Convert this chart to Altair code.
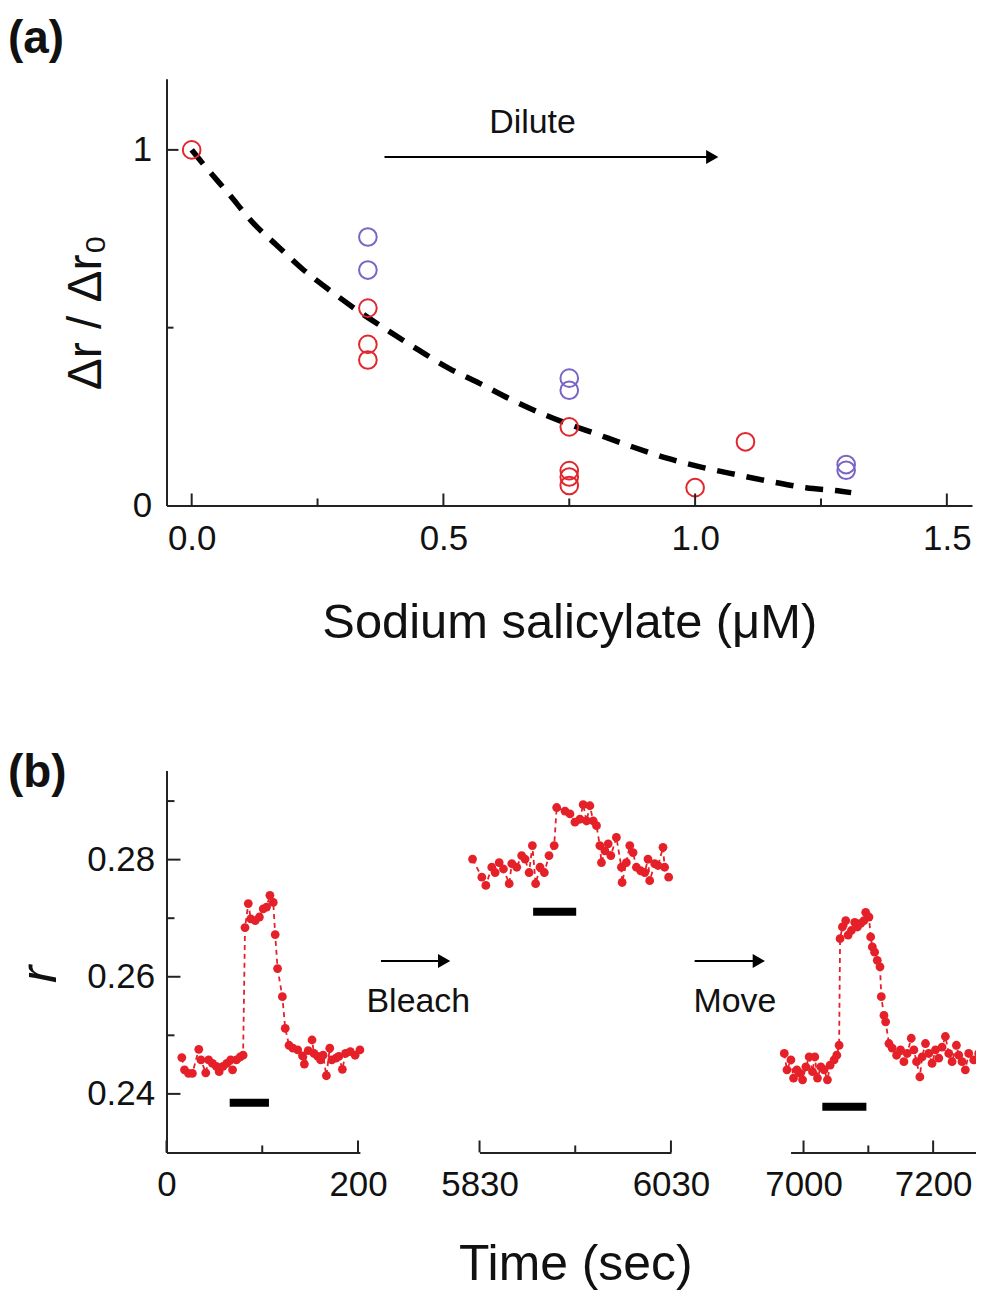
import altair as alt
import pandas as pd

# ---------------- Panel (a) data ----------------
conc_red = [0.0, 0.35, 0.35, 0.35, 0.75, 0.75, 0.75, 0.75, 1.0, 1.1]
ratio_red = [1.0, 0.555, 0.453, 0.409, 0.221, 0.098, 0.080, 0.056, 0.050, 0.179]
conc_purple = [0.35, 0.35, 0.75, 0.75, 1.3, 1.3]
ratio_purple = [0.755, 0.662, 0.358, 0.324, 0.115, 0.099]
fit_x = [0.0, 0.016, 0.075, 0.121, 0.171, 0.220, 0.278, 0.339, 0.393, 0.452, 0.512,
         0.571, 0.637, 0.706, 0.81, 0.875, 0.944, 1.012, 1.081, 1.151, 1.22, 1.29, 1.31]
fit_y = [1.0, 0.972, 0.874, 0.796, 0.729, 0.665, 0.601, 0.539, 0.489, 0.436, 0.385,
         0.344, 0.296, 0.252, 0.198, 0.165, 0.133, 0.108, 0.087, 0.067, 0.050, 0.040, 0.036]
a_xticks_major = [0.0, 0.5, 1.0, 1.5]
a_xticks_minor = [0.25, 0.75, 1.25]
a_yticks_major = [1.0]
a_yticks_minor = [0.5]
dilute_arrow = {"x": [0.383], "x2": [1.034], "y": [0.98]}
dilute_head = {"x": [1.034], "y": [0.98]}
dilute_text = {"x": [0.677], "y": [1.075], "label": ["Dilute"]}

# ---------------- Panel (b) data ----------------
t1 = [16, 18.8, 23, 27, 33.7, 36, 41, 44, 48, 52, 55, 59, 63, 67, 69, 73, 77, 80,
      82, 85.4, 88, 92.7, 97, 101, 104.5, 108, 111.5,
      113.5, 116, 121, 124, 128, 132, 137, 142, 144, 148, 152, 154, 158, 161, 163.5,
      167, 170.5, 172.6, 177, 180, 183.7, 187, 192, 197, 202]
r1 = [0.2462, 0.2441, 0.2435, 0.2435, 0.2476, 0.2458, 0.2436, 0.2458, 0.2452, 0.2447,
      0.2438, 0.2447, 0.2452, 0.2458, 0.2441, 0.2458, 0.2463, 0.2466,
      0.2684, 0.2725, 0.2699, 0.2696, 0.2702, 0.2716, 0.2719, 0.2739, 0.2727,
      0.2672, 0.2614, 0.2566, 0.2512, 0.2483, 0.2478, 0.2475, 0.2465, 0.2451, 0.2474,
      0.2492, 0.2469, 0.2464, 0.2458, 0.2466, 0.2431, 0.2478, 0.2458, 0.2461, 0.2464,
      0.2442, 0.2469, 0.2472, 0.2466, 0.2475]
t2 = [5822.7, 5832.4, 5836.6, 5842.8, 5846.3, 5850.5, 5855.0, 5861.0, 5863.7, 5868.9,
      5874.0, 5877.6, 5881.8, 5885.2, 5888.6, 5893.2, 5897.7, 5902.6, 5908.0, 5910.6,
      5919.3, 5924.5, 5929.7, 5934.9, 5938.3, 5941.8, 5945.3, 5948.8, 5952.2, 5955.7,
      5957.4, 5961.0, 5964.4, 5967.2, 5973.0, 5978.2, 5979.0, 5983.4, 5987.0, 5990.4,
      5993.9, 5998.4, 6002.6, 6006.0, 6007.8, 6013.0, 6016.5, 6021.7, 6023.4, 6027.6]
r2 = [0.2801, 0.2770, 0.2756, 0.2787, 0.2778, 0.2795, 0.2784, 0.2759, 0.2793, 0.2787,
      0.2807, 0.2801, 0.2778, 0.2824, 0.2759, 0.2787, 0.2778, 0.2807, 0.2824, 0.2889,
      0.2883, 0.2878, 0.2864, 0.2869, 0.2894, 0.2866, 0.2892, 0.2866, 0.2858, 0.2824,
      0.2795, 0.2815, 0.2827, 0.2807, 0.2838, 0.2787, 0.2761, 0.2795, 0.2824, 0.2812,
      0.2787, 0.2781, 0.2778, 0.2801, 0.2764, 0.2793, 0.2790, 0.2821, 0.2787, 0.2770]
t3 = [6970.3, 6974.4, 6980.5, 6984.6, 6989.7, 6994.9, 6998.5, 7003.6, 7008.7, 7013.8,
      7017.4, 7021.5, 7026.7, 7031.8, 7036.9, 7041.0, 7047.2, 7051.3, 7054.9,
      7056.4, 7060.0, 7065.1, 7068.7, 7073.8, 7079.0, 7083.1, 7088.2, 7093.3, 7095.9,
      7101.0, 7103.6, 7106.2, 7109.7, 7113.8, 7118.0, 7120.0, 7124.1, 7126.7, 7131.8,
      7136.9, 7143.6, 7149.7, 7154.9, 7160.0, 7166.2, 7170.3, 7174.4, 7179.5, 7183.0,
      7188.2, 7193.3, 7198.4, 7203.6, 7208.7, 7213.8, 7218.9, 7224.1, 7229.2, 7235.9,
      7239.5, 7244.6, 7249.7, 7254.9, 7262.6, 7270.3]
r3 = [0.2469, 0.2441, 0.2458, 0.2427, 0.2441, 0.2435, 0.2424, 0.2446, 0.2463, 0.2438,
      0.2463, 0.2427, 0.2446, 0.2441, 0.2424, 0.2449, 0.2458, 0.2466, 0.2483,
      0.2665, 0.2685, 0.2696, 0.2671, 0.2679, 0.2693, 0.2685, 0.2691, 0.2696, 0.2710,
      0.2702, 0.2668, 0.2651, 0.2642, 0.2628, 0.2617, 0.2566, 0.2534, 0.2523, 0.2486,
      0.2478, 0.2466, 0.2475, 0.2455, 0.2469, 0.2495, 0.2475, 0.2455, 0.2429, 0.2463,
      0.2486, 0.2469, 0.2452, 0.2475, 0.2461, 0.2480, 0.2498, 0.2469, 0.2455, 0.2483,
      0.2466, 0.2455, 0.2441, 0.2469, 0.2458, 0.2469]
stim1 = {"x": [66], "x2": [107], "y": [0.2385]}
stim2 = {"x": [5886], "x2": [5931], "y": [0.2711]}
stim3 = {"x": [7029], "x2": [7097], "y": [0.2378]}
bleach_arrow = {"x": [5727], "x2": [5793], "y": [0.2627]}
bleach_head = {"x": [5793], "y": [0.2627]}
bleach_text = {"x": [5766], "y": [0.2556], "label": ["Bleach"]}
move_arrow = {"x": [6832], "x2": [6931], "y": [0.2627]}
move_head = {"x": [6931], "y": [0.2627]}
move_text = {"x": [6894], "y": [0.2556], "label": ["Move"]}
b_yticks_major = [0.24, 0.26, 0.28]
b_yticks_minor = [0.25, 0.27, 0.29]
b1_ticks = {"major": [0, 200], "minor": [100]}
b2_ticks = {"major": [5830, 6030], "minor": [5930]}
b3_ticks = {"major": [7000, 7200], "minor": [7100]}

# ---------------- styling ----------------
FONT = "Liberation Sans"
AX = "#222222"
RED_OPEN = "#e2262d"
PURPLE = "#7a64c6"
RED_FILL = "#e52028"

WA, HA = 808, 428
HB = 383
W1, W2, W3 = 194, 192, 186
SPACING_B = 120


def xy(xs, ys):
    return pd.DataFrame({"x": xs, "y": ys})


def xticks(values, scale, h, length):
    return alt.Chart(pd.DataFrame({"x": values})).mark_rule(color=AX, strokeWidth=2).encode(
        x=alt.X("x:Q", scale=scale), y=alt.value(h), y2=alt.value(h - length))


def yticks(values, scale, length, yaxis=alt.Undefined):
    return alt.Chart(pd.DataFrame({"y": values})).mark_rule(color=AX, strokeWidth=2).encode(
        y=alt.Y("y:Q", scale=scale, axis=yaxis), x=alt.value(0), x2=alt.value(length))


def arrow(seg, head, xs, ys, yaxis=alt.Undefined):
    line = alt.Chart(pd.DataFrame(seg)).mark_rule(color="black", strokeWidth=2).encode(
        x=alt.X("x:Q", scale=xs), x2="x2:Q", y=alt.Y("y:Q", scale=ys, axis=yaxis))
    tip = alt.Chart(pd.DataFrame(head)).mark_point(
        shape="triangle-right", filled=True, size=200, color="black", opacity=1).encode(
        x=alt.X("x:Q", scale=xs), y=alt.Y("y:Q", scale=ys, axis=yaxis))
    return line + tip


def label(d, xs, ys, size, yaxis=alt.Undefined):
    return alt.Chart(pd.DataFrame(d)).mark_text(
        font=FONT, fontSize=size, color="#111", baseline="middle").encode(
        x=alt.X("x:Q", scale=xs), y=alt.Y("y:Q", scale=ys, axis=yaxis), text="label:N")


# ---------------- Panel (a) ----------------
xa = alt.Scale(domain=[-0.05, 1.55], nice=False, zero=False)
ya = alt.Scale(domain=[0, 1.2], nice=False, zero=False)

fit = alt.Chart(xy(fit_x, fit_y)).mark_line(
    color="black", strokeWidth=5.5, strokeDash=[18, 12], interpolate="monotone").encode(
    x=alt.X("x:Q", scale=xa, axis=alt.Axis(
        values=a_xticks_major, format=".1f", title="Sodium salicylate (μM)",
        titleFontSize=49, ticks=False, tickSize=0, labelPadding=16, titlePadding=42,
        labelFlush=False)),
    y=alt.Y("y:Q", scale=ya, axis=alt.Axis(
        values=[0, 1], format="d", title="Δr / Δr₀", titleY=234,
        ticks=False, tickSize=0, labelPadding=15, titlePadding=22, labelFlush=False)))

red_pts = alt.Chart(xy(conc_red, ratio_red)).mark_point(
    shape="circle", filled=False, size=314, strokeWidth=2, color=RED_OPEN, opacity=1).encode(
    x=alt.X("x:Q", scale=xa), y=alt.Y("y:Q", scale=ya))
pur_pts = alt.Chart(xy(conc_purple, ratio_purple)).mark_point(
    shape="circle", filled=False, size=314, strokeWidth=2, color=PURPLE, opacity=1).encode(
    x=alt.X("x:Q", scale=xa), y=alt.Y("y:Q", scale=ya))

panel_a = alt.layer(
    fit, red_pts, pur_pts,
    xticks(a_xticks_major, xa, HA, 12), xticks(a_xticks_minor, xa, HA, 7),
    yticks(a_yticks_major, ya, 12), yticks(a_yticks_minor, ya, 7),
    arrow(dilute_arrow, dilute_head, xa, ya),
    label(dilute_text, xa, ya, 34),
).properties(
    width=WA, height=HA,
    title=alt.TitleParams("(a)", anchor="start", frame="group", fontSize=46,
                          fontWeight="bold", dx=-159, offset=16, color="#111"))

# ---------------- Panel (b) ----------------
yb = alt.Scale(domain=[0.23, 0.2952], nice=False, zero=False)


def trace(ts, rs, xs, xaxis, yaxis):
    d = xy(ts, rs)
    line = alt.Chart(d).mark_line(color=RED_FILL, strokeWidth=1.8, strokeDash=[5, 4]).encode(
        x=alt.X("x:Q", scale=xs, axis=xaxis), y=alt.Y("y:Q", scale=yb, axis=yaxis))
    pts = alt.Chart(d).mark_circle(color=RED_FILL, size=78, opacity=1).encode(
        x=alt.X("x:Q", scale=xs), y=alt.Y("y:Q", scale=yb, axis=yaxis))
    return line + pts


def stim(d, xs, yaxis=alt.Undefined):
    return alt.Chart(pd.DataFrame(d)).mark_rule(color="black", strokeWidth=8, strokeCap="butt").encode(
        x=alt.X("x:Q", scale=xs), x2="x2:Q", y=alt.Y("y:Q", scale=yb, axis=yaxis))


def xaxis_b(vals, title=""):
    return alt.Axis(values=vals, format="d", ticks=False, tickSize=0, labelPadding=15,
                    labelFlush=False, titlePadding=37, titleFontSize=50, title=title)


xb1 = alt.Scale(domain=[0, 202], nice=False, zero=False)
xb2 = alt.Scale(domain=[5830, 6030], nice=False, zero=False)
xb3 = alt.Scale(domain=[6980, 6980 + W3 / 0.65], nice=False, zero=False)

yaxis_b = alt.Axis(values=b_yticks_major, format=".2f", title="r", titleFontStyle="italic",
                   titleFontSize=52, titleY=204, ticks=False, tickSize=0, labelPadding=12,
                   titlePadding=20)

b1 = alt.layer(
    trace(t1, r1, xb1, xaxis_b(b1_ticks["major"]), yaxis_b),
    stim(stim1, xb1),
    xticks(b1_ticks["major"], xb1, HB, 12), xticks(b1_ticks["minor"], xb1, HB, 7),
    yticks(b_yticks_major, yb, 14), yticks(b_yticks_minor, yb, 8),
).properties(
    width=W1, height=HB,
    title=alt.TitleParams("(b)", anchor="start", frame="group", fontSize=46,
                          fontWeight="bold", dx=-159, dy=42, offset=16, color="#111"))

b2 = alt.layer(
    trace(t2, r2, xb2, xaxis_b(b2_ticks["major"], "Time (sec)"), None),
    stim(stim2, xb2, None),
    xticks(b2_ticks["major"], xb2, HB, 12), xticks(b2_ticks["minor"], xb2, HB, 7),
    arrow(bleach_arrow, bleach_head, xb2, yb, None),
    label(bleach_text, xb2, yb, 34, None),
).properties(width=W2, height=HB)

b3 = alt.layer(
    trace(t3, r3, xb3, xaxis_b(b3_ticks["major"]), None),
    stim(stim3, xb3, None),
    xticks(b3_ticks["major"], xb3, HB, 12), xticks(b3_ticks["minor"], xb3, HB, 7),
    arrow(move_arrow, move_head, xb3, yb, None),
    label(move_text, xb3, yb, 34, None),
).properties(width=W3, height=HB)

panel_b = alt.hconcat(b1, b2, b3, spacing=SPACING_B, bounds="flush")

chart = alt.vconcat(panel_a, panel_b, spacing=266, bounds="flush").properties(
    padding={"left": 0, "top": 6, "right": -8, "bottom": 0}
).configure(font=FONT).configure_view(stroke=None).configure_axis(
    domainColor=AX, domainWidth=2, labelFont=FONT, titleFont=FONT, labelFontSize=35,
    titleFontSize=48, labelColor="#111", titleColor="#111", titleFontWeight="normal",
    grid=False
).configure_title(font=FONT)

chart.save("out.html", embed_options={"renderer": "svg", "actions": False})
